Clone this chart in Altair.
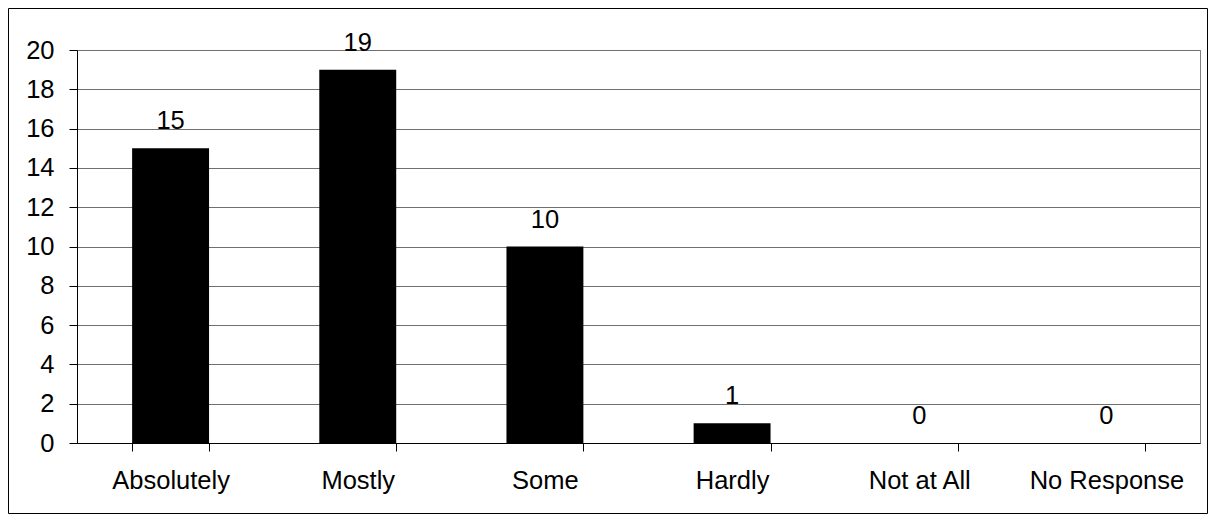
import altair as alt
import pandas as pd

categories = ["Absolutely", "Mostly", "Some", "Hardly", "Not at All", "No Response"]
counts = [15, 19, 10, 1, 0, 0]
y_ticks = [0, 2, 4, 6, 8, 10, 12, 14, 16, 18, 20]

df = pd.DataFrame({"category": categories, "count": counts})

W, H = 1123, 393
FONT = "Liberation Sans"
FS = 25.5

x_enc = alt.X(
    "category:N", sort=categories, title=None,
    scale=alt.Scale(paddingInner=0.589, paddingOuter=0.2945),
    axis=alt.Axis(labelAngle=0, tickBand="extent", tickSize=8, labelPadding=17,
                  domainColor="black", tickColor="black", labelColor="black",
                  labelFont=FONT, labelFontSize=FS, grid=False),
)
y_enc = alt.Y(
    "count:Q", title=None,
    scale=alt.Scale(domain=[0, 20], nice=False),
    axis=alt.Axis(values=y_ticks, tickSize=8, labelPadding=15, grid=True,
                  gridColor="#707070", gridWidth=1, domainColor="black",
                  tickColor="black", labelColor="black", labelFont=FONT,
                  labelFontSize=FS),
)

bars = alt.Chart(df).mark_bar(color="black").encode(x=x_enc, y=y_enc)

labels = alt.Chart(df).mark_text(
    baseline="alphabetic", dy=-19, font=FONT, fontSize=FS, color="black"
).encode(
    x=x_enc,
    y=y_enc,
    text="count:Q",
)

border = alt.Chart(pd.DataFrame({"a": [0]})).mark_rect(
    fill="transparent", stroke="black", strokeWidth=1
).encode(
    x=alt.value(-68.5), x2=alt.value(W + 7.5),
    y=alt.value(-41.5), y2=alt.value(H + 70.5),
)

chart = alt.layer(border, bars, labels).properties(
    width=W, height=H,
    autosize=alt.AutoSizeParams(type="none"),
    padding={"left": 69, "top": 42, "right": 8, "bottom": 71},
).configure(background="white").configure_view(stroke="#808080", strokeWidth=1)

chart.save("out.html", embed_options={"renderer": "svg", "actions": False})
